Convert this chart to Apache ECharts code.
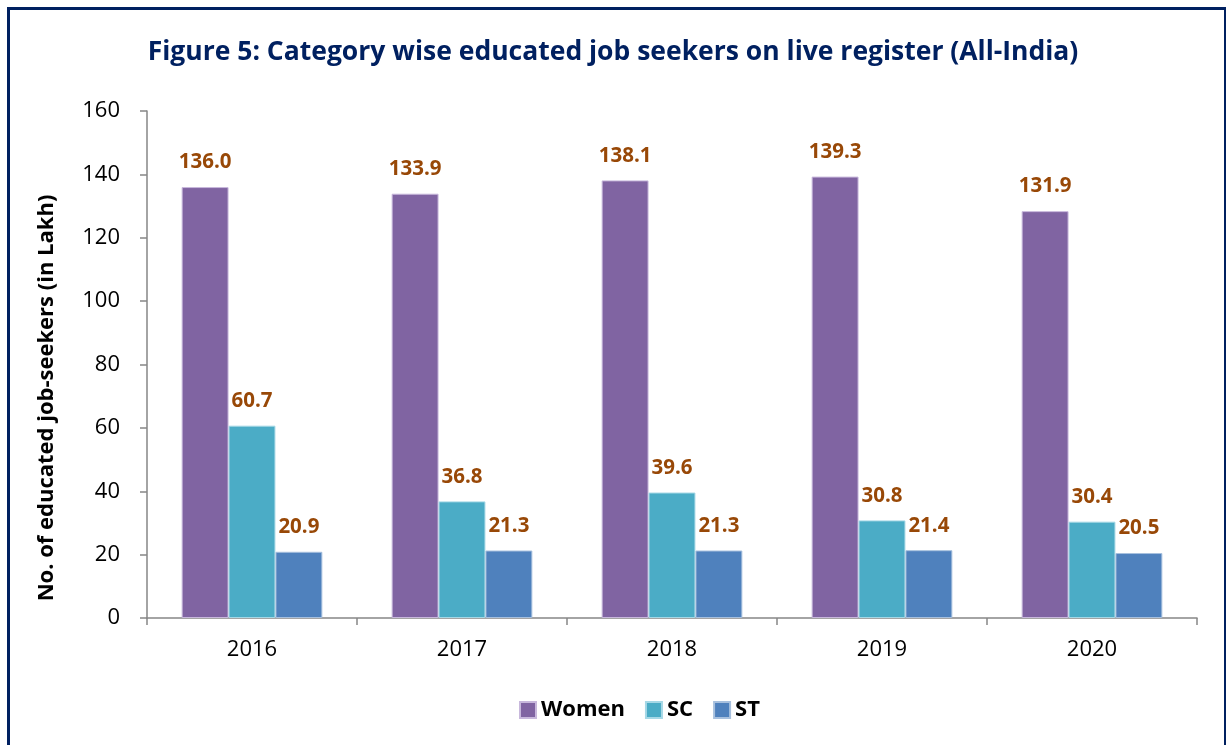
<!DOCTYPE html>
<html>
<head>
<meta charset="utf-8">
<script src="https://cdn.jsdelivr.net/npm/echarts@6/dist/echarts.min.js"></script>
<style>
  html, body { margin: 0; padding: 0; background: #fff; }
  #frame { position: absolute; left: 7px; top: 7px; width: 1214px; height: 760px; border: 3px solid #002060; }
  #myChart { position: absolute; left: 0; top: 0; width: 1226px; height: 745px; }
</style>
</head>
<body>
<div id="frame"></div>
<div id="myChart"></div>
<script>
// chart data
var years = ['2016', '2017', '2018', '2019', '2020']
var women = [136.0, 133.9, 138.1, 139.3, 128.4]
var womenLabels = ['136.0', '133.9', '138.1', '139.3', '131.9']
var sc = [60.7, 36.8, 39.6, 30.8, 30.4]
var st = [20.9, 21.3, 21.3, 21.4, 20.5]
var yTicks = [0, 20, 40, 60, 80, 100, 120, 140, 160]

var fontName = 'Open Sans'
var labelColor = '#984807'

function makeLabel(texts) {
  return {
    show: true,
    position: 'top',
    distance: 14,
    color: labelColor,
    fontWeight: 'bold',
    fontSize: 20.5,
    fontFamily: fontName,
    formatter: function (p) {
      return texts ? texts[p.dataIndex] : p.value.toFixed(1)
    }
  }
}

var myChart = echarts.init(document.getElementById('myChart'))
myChart.setOption({
  animation: false,
  textStyle: { fontFamily: fontName },
  title: {
    text: 'Figure 5: Category wise educated job seekers on live register (All-India)',
    left: 'center',
    top: 34,
    textStyle: { color: '#002060', fontSize: 26.5, fontWeight: 'bold', fontFamily: fontName }
  },
  legend: {
    top: 694,
    left: 514,
    itemWidth: 16,
    itemHeight: 16,
    itemGap: 20,
    icon: 'rect',
    textStyle: { fontSize: 22, fontWeight: 'bold', color: '#000', fontFamily: fontName },
    data: ['Women', 'SC', 'ST']
  },
  // y axis title sits a bit below the middle of the axis, as in the source
  graphic: [
    {
      type: 'text',
      x: 47,
      y: 398,
      rotation: Math.PI / 2,
      style: {
        text: 'No. of educated job-seekers (in Lakh)',
        fill: '#000',
        font: 'bold 22px "Open Sans"',
        align: 'center',
        verticalAlign: 'middle'
      }
    }
  ],
  grid: { left: 147, right: 29, top: 111, bottom: 127, containLabel: false },
  xAxis: {
    type: 'category',
    data: years,
    axisLine: { lineStyle: { color: '#868686', width: 1.5 } },
    axisTick: { show: true, length: 7, lineStyle: { color: '#868686', width: 1.5 } },
    axisLabel: { color: '#000', fontSize: 22, margin: 21 }
  },
  yAxis: {
    type: 'value',
    min: yTicks[0],
    max: yTicks[yTicks.length - 1],
    interval: 20,
    axisLine: { show: true, lineStyle: { color: '#868686', width: 1.5 } },
    axisTick: { show: true, length: 7, lineStyle: { color: '#868686', width: 1.5 } },
    splitLine: { show: false },
    axisLabel: { color: '#000', fontSize: 22, margin: 27 }
  },
  series: [
    {
      name: 'Women',
      type: 'bar',
      data: women,
      barGap: '0%',
      barCategoryGap: '33%',
      itemStyle: { color: '#8064A2', borderColor: '#C8B8DC', borderWidth: 1 },
      label: makeLabel(womenLabels)
    },
    {
      name: 'SC',
      type: 'bar',
      data: sc,
      itemStyle: { color: '#4BACC6', borderColor: '#A6D8E6', borderWidth: 1 },
      label: makeLabel(null)
    },
    {
      name: 'ST',
      type: 'bar',
      data: st,
      itemStyle: { color: '#4F81BD', borderColor: '#A7C0DE', borderWidth: 1 },
      label: makeLabel(null)
    }
  ]
})
</script>
</body>
</html>
